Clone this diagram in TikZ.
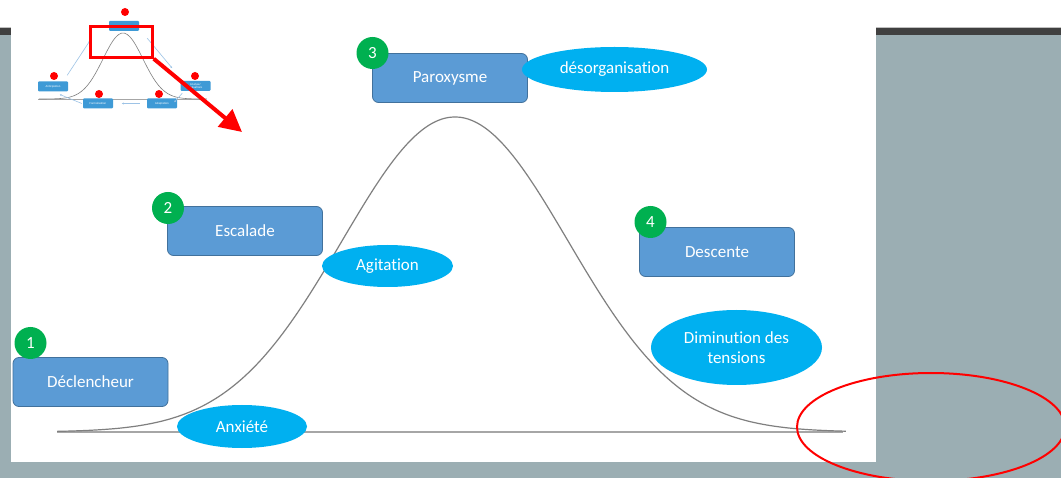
\documentclass[tikz,border=0pt]{standalone}
\usepackage{fontspec}
\setmainfont{Carlito}[Ligatures={NoCommon}]
\usetikzlibrary{shapes.geometric,arrows.meta}

\definecolor{bggray}{HTML}{9BAEB3}
\definecolor{bardark}{HTML}{404040}
\definecolor{barline}{HTML}{C0C0C0}
\definecolor{stageblue}{HTML}{5B9BD5}
\definecolor{stageedge}{HTML}{41719C}
\definecolor{badgegreen}{HTML}{00B050}
\definecolor{bubblecyan}{HTML}{00B0F0}
\definecolor{curvegray}{HTML}{7F7F7F}
\definecolor{axisgray}{HTML}{A6A6A6}
\definecolor{miniblue}{HTML}{3E9AD6}
\definecolor{minilink}{HTML}{9DC3E6}

\tikzset{
  stage/.style={draw=stageedge, fill=stageblue, rounded corners=6pt, text=white,
    minimum width=155pt, minimum height=49pt, inner sep=0pt, line width=0.8pt,
    font=\fontsize{17}{20}\selectfont},
  badge/.style={circle, fill=badgegreen, text=white, minimum size=32pt, inner sep=0pt,
    font=\fontsize{17}{20}\selectfont},
  bubble/.style={ellipse, fill=bubblecyan, text=white, inner sep=0pt, align=center,
    font=\fontsize{17}{20}\selectfont},
  minibox/.style={fill=miniblue, rounded corners=1pt, text=white, minimum width=30pt,
    minimum height=10pt, inner sep=0pt, align=center, font=\fontsize{3}{3.5}\selectfont},
  minidot/.style={circle, fill=red, minimum size=8pt, inner sep=0pt},
  minilinkarrow/.style={draw=minilink, line width=0.6pt, -{Stealth[length=2pt,width=2pt]}},
}

\begin{document}
\begin{tikzpicture}[x=1pt,y=-1pt]
  \useasboundingbox (0,0) rectangle (1061,478);
  % slide backdrop and header bar
  \fill[bggray] (0,0) rectangle (1061,478);
  \fill[white] (0,0) rectangle (1061,27);
  \fill[barline] (0,27) rectangle (1061,28);
  \fill[bardark] (0,28) rectangle (1061,35);
  % white canvas
  \fill[white] (11,0) rectangle (876,462);

  % ---------- small overview cycle (top left) ----------
  \draw[axisgray, line width=0.8pt] (38,99) -- (205,99);
  \draw[curvegray, line width=0.6pt, smooth, samples=60, domain=-4.2:4.2]
    plot ({123+20*\x},{99-66*exp(-\x*\x/2)});
  \node[minibox] (mtop) at (124,26) {Gestion};
  \node[minibox] (mant) at (53,86.5) {Anticipation};
  \node[minibox] (mform) at (98,103.5) {Formalisation};
  \node[minibox] (madapt) at (162,103.5) {Adaptation};
  \node[minibox] (manal) at (195.5,86) {Analyse/\\Evaluations};
  \node[minidot] at (125,12) {};
  \node[minidot] at (54,76) {};
  \node[minidot] at (99,94) {};
  \node[minidot] at (159,94) {};
  \node[minidot] at (195,76) {};
  \draw[minilinkarrow] (mant.north east) ++(-1,-6) -- ++(23,-35);
  \draw[minilinkarrow] (mtop.south east) ++(8,7) -- ++(25,30);
  \draw[minilinkarrow] (manal.south west) ++(2,2) -- ++(-8,9);
  \draw[minilinkarrow] (madapt.west) ++(-7,0) -- ++(-18,0);
  \draw[minilinkarrow] (mform.west) ++(-1,0) -- ++(-22,-9);

  % zoom frame and pointer
  \node[draw=red, line width=2.5pt, minimum width=62pt, minimum height=31pt, inner sep=0pt]
    (zoomframe) at (121.5,42) {};
  \coordinate (zoomtip) at (242,132);
  \draw[red, line width=4pt, -{Triangle[length=22pt,width=22pt]}]
    (zoomframe.south east) -- (zoomtip);

  % ---------- main curve ----------
  \draw[axisgray, line width=1.6pt] (57,432) -- (843,432);
  \draw[curvegray, line width=1.2pt, smooth, samples=120, domain=-3.52:3.46]
    plot ({455+113*\x},{432-315*exp(-\x*\x/2)});

  % phase boxes
  \node[stage] (s1) at (90.5,382) {Déclencheur};
  \node[stage] (s2) at (245,231) {Escalade};
  \node[stage] (s3) at (450,78) {Paroxysme};
  \node[stage] (s4) at (717,252) {Descente};

  % states along the curve
  \node[bubble, minimum width=130pt, minimum height=43pt] (b1) at (242,426.5) {Anxiété};
  \node[bubble, minimum width=131pt, minimum height=42pt] (b2) at (387.5,266) {Agitation};
  \node[bubble, minimum width=185pt, minimum height=45pt] (b3) at (614.5,69.5) {désorganisation};
  \node[bubble, minimum width=171pt, minimum height=75pt] (b4) at (736.5,347.5) {Diminution des\\tensions};

  % step numbers
  \node[badge] (n1) at (30.5,343) {1};
  \node[badge] (n2) at (168,208) {2};
  \node[badge] (n3) at (372.5,53) {3};
  \node[badge] (n4) at (650.5,222) {4};

  % highlight around the curve's tail
  \node[draw=red, line width=2pt, ellipse, minimum width=268pt, minimum height=108pt, inner sep=0pt]
    (tailmark) at (931,427) {};
\end{tikzpicture}
\end{document}
